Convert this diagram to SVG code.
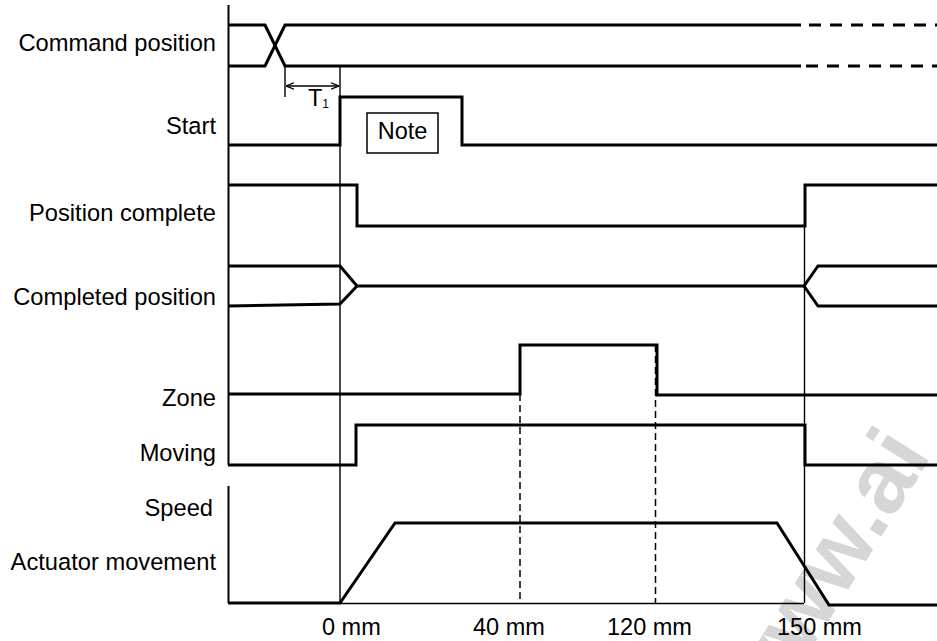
<svg xmlns="http://www.w3.org/2000/svg" width="937" height="641" viewBox="0 0 937 641">
<style>
.sig{fill:none;stroke:#000;stroke-width:3;stroke-linejoin:miter;stroke-linecap:butt}
.axis{fill:none;stroke:#000;stroke-width:2}
.thin{fill:none;stroke:#000;stroke-width:1.4}
.dash{fill:none;stroke:#000;stroke-width:1.5;stroke-dasharray:7 4}
.ldash{fill:none;stroke:#000;stroke-width:3;stroke-dasharray:12 9}
.lbl{font-family:"Liberation Sans",Arial,sans-serif;font-size:23.7px;fill:#000;text-anchor:end}
.mm{font-family:"Liberation Sans",Arial,sans-serif;font-size:23.5px;fill:#000}
.wm{font-family:"Liberation Sans",Arial,sans-serif;font-weight:bold;font-size:92px;fill:#d6d6d6}
</style>
<defs>
<marker id="ah" viewBox="0 0 10 10" refX="10" refY="5" markerWidth="8" markerHeight="8" orient="auto-start-reverse" markerUnits="userSpaceOnUse">
<path d="M0,1 L10,5 L0,9" fill="none" stroke="#000" stroke-width="1.5"/>
</marker>
</defs>
<rect width="937" height="641" fill="#fff"/>
<text class="wm" transform="translate(766,721) rotate(-58)">www.ai</text>

<g id="axes">
<path class="axis" d="M228.5,5 V465"/>
<path class="axis" d="M228.5,486 V603"/>
</g>

<g id="connectors">
<path class="thin" d="M340,66 V603"/>
<path class="thin" d="M804.5,226 V603"/>
<path class="thin" d="M285,66 V97"/>
<path class="thin" d="M286,86 H339" marker-start="url(#ah)" marker-end="url(#ah)"/>
<path class="dash" d="M520,394 V603"/>
<path class="dash" d="M655.5,345 V603"/>
<path class="thin" d="M340,603.5 H804"/>
</g>

<g id="command-position">
<text class="lbl" x="216" y="51">Command position</text>
<path class="sig" d="M228,25 H265 L285,66 H801"/>
<path class="sig" d="M228,66 H265 L285,25 H801"/>
<path class="ldash" d="M809,25 H937"/>
<path class="ldash" d="M806,66 H937"/>
<text class="mm" x="308" y="106" font-size="20">T<tspan font-size="12" dy="2">1</tspan></text>
</g>

<g id="start">
<text class="lbl" x="216" y="134">Start</text>
<path class="sig" d="M228,145 H340 V97 H462 V145 H937"/>
</g>

<g id="note">
<rect x="367" y="113" width="71" height="40" fill="#fff" stroke="#000" stroke-width="1.5"/>
<text class="mm" x="402.5" y="139" text-anchor="middle">Note</text>
</g>

<g id="position-complete">
<text class="lbl" x="216" y="221">Position complete</text>
<path class="sig" d="M228,185 H357 V226 H805 V185 H937"/>
</g>

<g id="completed-position">
<text class="lbl" x="216" y="305">Completed position</text>
<path class="sig" d="M228,266 H340 L357,286 H804 L818,266 H937"/>
<path class="sig" d="M228,306 L340,304 L357,286"/>
<path class="sig" d="M804,286 L818,306 H937"/>
</g>

<g id="zone">
<text class="lbl" x="216" y="406">Zone</text>
<path class="sig" d="M228,394 H520 V345 H657 V395 H937"/>
</g>

<g id="moving">
<text class="lbl" x="216" y="461">Moving</text>
<path class="sig" d="M228,465 H356 V425 H805 V465 H937"/>
</g>

<g id="speed">
<text class="lbl" x="213" y="516">Speed</text>
<text class="lbl" x="216" y="570">Actuator movement</text>
<path class="sig" d="M228,603 H340 L395,523 H777 L829,605 H937"/>
</g>

<g id="positions">
<text class="mm" x="322" y="635">0 mm</text>
<text class="mm" x="473" y="635">40 mm</text>
<text class="mm" x="607" y="635">120 mm</text>
<text class="mm" x="777" y="635">150 mm</text>
</g>
</svg>
